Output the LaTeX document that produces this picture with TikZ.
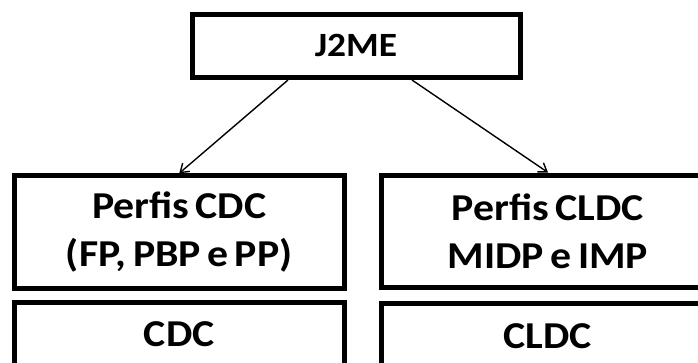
\documentclass[tikz,border=0pt]{standalone}
\usepackage{fontspec}
\setmainfont{Carlito}[FakeStretch=1.1]
\usetikzlibrary{arrows.meta}
\newcommand\apertado{\spaceskip=0.17em\relax}

\begin{document}
\begin{tikzpicture}[x=1pt,y=1pt,yscale=-1,xscale=1,
        caixa/.style={draw, rectangle, line width=5pt, inner sep=0pt, align=center,
          font={\bfseries\fontsize{38}{48}\selectfont\apertado}},
        seta/.style={line width=1.4pt, -{Straight Barb[length=8pt,width=11pt]}}]
        \useasboundingbox (0,0) rectangle (698,362);
        
        %Shape: Rectangle [id:j2me] 
        \node [caixa, minimum width=328, minimum height=63.5, font={\bfseries\fontsize{34}{40}\selectfont}] (j2me) at (356,45.75) {J2ME};
        %Shape: Rectangle [id:perfiscdc] 
        \node [caixa, minimum width=329.5, minimum height=112.5] (perfiscdc) at (179.25,232) {Perfis CDC\\(FP, PBP e PP)};
        %Shape: Rectangle [id:perfiscldc] 
        \node [caixa, minimum width=334, minimum height=112.5] (perfiscldc) at (548,231.25) {Perfis CLDC\\MIDP e IMP};
        %Shape: Rectangle [id:cdc] 
        \node [caixa, minimum width=329.5, minimum height=65] (cdc) at (179.25,334.5) {CDC};
        %Shape: Rectangle [id:cldc] 
        \node [caixa, minimum width=334, minimum height=65] (cldc) at (548,336) {CLDC};
        
        % Arrows
        \draw [seta] ([xshift=-68pt]j2me.south) -- (perfiscdc.north);
        \draw [seta] ([xshift=56pt]j2me.south) -- (perfiscldc.north);
        
\end{tikzpicture}
\end{document}
